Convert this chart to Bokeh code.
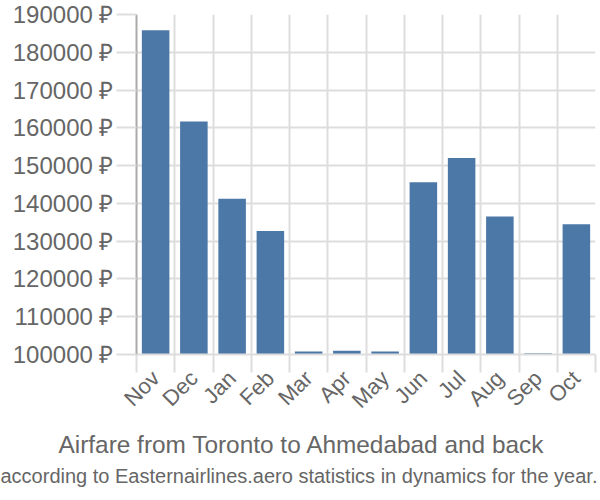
from bokeh.plotting import figure
from bokeh.models import FixedTicker, Range1d, Title, ColumnDataSource
from bokeh.embed import file_html
from bokeh.resources import INLINE
import math

months = ["Nov", "Dec", "Jan", "Feb", "Mar", "Apr", "May", "Jun", "Jul", "Aug", "Sep", "Oct"]
prices = [185800, 161700, 141200, 132700, 100800, 101000, 100800, 145600, 152000, 136500, 100300, 134500]
y_ticks = [100000, 110000, 120000, 130000, 140000, 150000, 160000, 170000, 180000, 190000]

FONT = "Liberation Sans"
GRAY = "#666666"
GRID = "#dddddd"

xs = [i + 0.5 for i in range(len(months))]
src = ColumnDataSource(dict(x=xs, top=prices, m=months))

p = figure(width=600, height=500, output_backend="svg", toolbar_location=None,
           x_range=Range1d(0, 12), y_range=Range1d(100000, 190000),
           min_border_left=136, min_border_right=5, min_border_top=14, min_border_bottom=146)
p.outline_line_color = None

p.vbar(x="x", top="top", bottom=100000, width=0.72, source=src,
       fill_color="#4c78a8", line_color=None)

# x axis
xt = FixedTicker(ticks=xs, minor_ticks=list(range(0, 13)))
p.xaxis.ticker = xt
p.xaxis.major_label_overrides = {x: m for x, m in zip(xs, months)}
p.xaxis.major_tick_line_color = None
p.xaxis.minor_tick_line_color = GRID
p.xaxis.minor_tick_line_width = 2
p.xaxis.minor_tick_out = 18
p.xaxis.minor_tick_in = 0
p.xaxis.axis_line_color = GRID
p.xaxis.axis_line_width = 2
p.xaxis.major_label_orientation = math.pi / 4
p.xaxis.major_label_text_font = FONT
p.xaxis.major_label_text_font_size = "22px"
p.xaxis.major_label_text_color = GRAY
p.xaxis.major_label_standoff = 2

p.xgrid.ticker = FixedTicker(ticks=list(range(0, 13)))
p.xgrid.grid_line_color = GRID
p.xgrid.grid_line_width = 2

# y axis
p.yaxis.ticker = FixedTicker(ticks=y_ticks)
p.yaxis.major_label_overrides = {v: f"{v} ₽" for v in y_ticks}
p.yaxis.major_tick_line_color = GRID
p.yaxis.major_tick_line_width = 2
p.yaxis.major_tick_out = 20
p.yaxis.major_tick_in = 0
p.yaxis.minor_tick_line_color = None
p.yaxis.axis_line_color = "#aaaaaa"
p.yaxis.axis_line_width = 2
p.yaxis.major_label_text_font = FONT
p.yaxis.major_label_text_font_size = "24px"
p.yaxis.major_label_text_color = GRAY
p.yaxis.major_label_standoff = 3
p.ygrid.ticker = FixedTicker(ticks=y_ticks)
p.ygrid.grid_line_color = GRID
p.ygrid.grid_line_width = 2

sub = Title(text="according to Easternairlines.aero statistics in dynamics for the year.",
            align="left", text_font=FONT, text_font_size="20px", text_color=GRAY,
            text_font_style="normal", standoff=0, offset=-136)
main = Title(text="Airfare from Toronto to Ahmedabad and back",
             align="left", text_font=FONT, text_font_size="24.4px", text_color=GRAY,
             text_font_style="normal", standoff=9, offset=-78)
p.add_layout(main, "below")
p.add_layout(sub, "below")

open("out.html", "w").write(file_html(p, INLINE))
